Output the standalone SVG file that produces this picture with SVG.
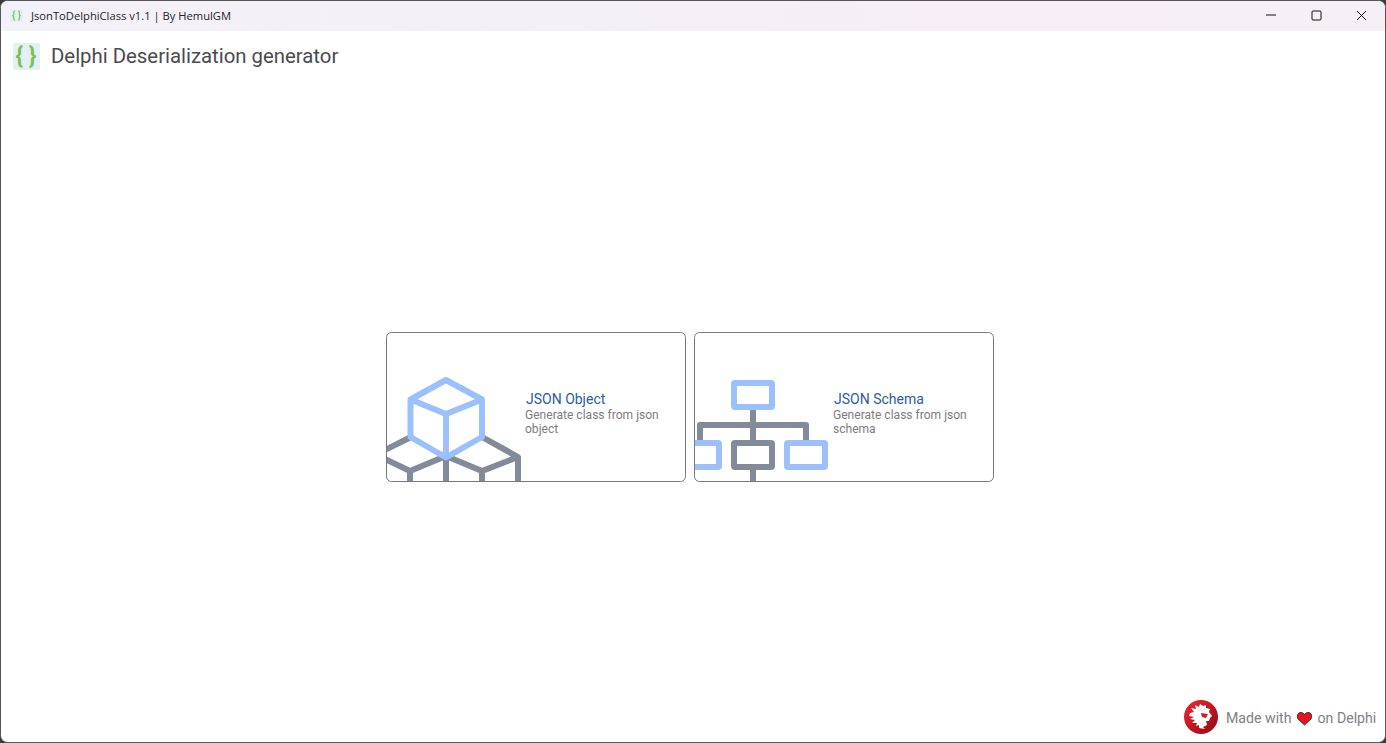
<svg xmlns="http://www.w3.org/2000/svg" width="1386" height="743" viewBox="0 0 1386 743">
<style>
text{font-family:Roboto,"Liberation Sans",sans-serif}
.t{font-size:14px;fill:#2a5ca8}
.d{font-size:12.05px;fill:#7d7d7d}
.b{fill:none;stroke:#9bc0fd;stroke-width:6;stroke-linejoin:round}
.g{fill:none;stroke:#838b9b;stroke-width:6;stroke-linejoin:round}
.card{fill:#fff;stroke:#77777f;stroke-width:1}
.f{font-size:14.15px;fill:#808086}
</style>
<defs>
<linearGradient id="tb" x1="0" x2="1" y1="0" y2="0"><stop offset="0" stop-color="#f3f1f9"/><stop offset=".7" stop-color="#f7eef7"/><stop offset="1" stop-color="#f7eff7"/></linearGradient>
<linearGradient id="dl" x1="0" y1="0" x2="1" y2="1"><stop offset="0" stop-color="#ec2a35"/><stop offset=".55" stop-color="#c0141f"/><stop offset="1" stop-color="#850a18"/></linearGradient>
<clipPath id="c1"><rect x="387" y="333" width="298" height="148" rx="5"/></clipPath>
<clipPath id="c2"><rect x="695" y="333" width="298" height="148" rx="5"/></clipPath>
</defs>
<rect width="1386" height="743" fill="#3a3a3a"/>
<rect x="0.5" y="0.5" width="1385" height="742" rx="7" fill="#fff" stroke="#55555a"/>
<path d="M1 31V8a7 7 0 0 1 7-7H1378a7 7 0 0 1 7 7V31Z" fill="url(#tb)"/>
<g id="titlebar">
<rect x="10" y="9" width="13" height="13" rx="1" fill="#e5f2f5"/>
<text x="16.500" y="19" font-size="10" fill="#7cc35a" text-anchor="middle" font-weight="700">{ }</text>
<text x="31" y="20" font-size="11.2" fill="#1f1f1f" style="font-family:'Open Sans',sans-serif">JsonToDelphiClass v1.1 | By HemulGM</text>
<path d="M1266 15H1276" stroke="#111" fill="none"/>
<rect x="1312" y="11" width="9" height="9" rx="1" fill="none" stroke="#111"/>
<path d="M1357 11L1366 20M1366 11L1357 20" stroke="#111" fill="none"/>
</g>
<g id="header">
<rect x="13" y="43" width="27" height="27" rx="2" fill="#e2f0f5"/>
<text x="26" y="63.500" font-size="23" font-weight="700" fill="#7cbf4e" text-anchor="middle">{ }</text>
<text x="51" y="63" font-size="20.35" fill="#4a4a4f">Delphi Deserialization generator</text>
</g>
<g id="node-json-object">
<rect class="card" x="386.500" y="332.500" width="299" height="149" rx="5"/>
<g clip-path="url(#c1)">
<path class="g" d="M411 437L385 450M385 459L410 471L446 456L482 471L518 457L482 437M410 471V483M446 456V483M482 471V483M518 457V483"/>
<path class="b" d="M446 380L482 399.500V437L446 457.500L410.500 437V399.500ZM410.500 399.500L446 414L482 399.500M446 414V457.500"/>
</g>
<text class="t" x="526" y="404">JSON Object</text>
<text class="d" x="525" y="419">Generate class from json</text>
<text class="d" x="525" y="433">object</text>
</g>
<g id="node-json-schema">
<rect class="card" x="694.500" y="332.500" width="299" height="149" rx="5"/>
<g clip-path="url(#c2)">
<path class="g" d="M753 410V443M700 443V425H806V443"/>
<rect class="g" x="734" y="443" width="38" height="24" rx="1"/>
<path class="g" d="M753 467V483"/>
<rect class="b" x="734" y="383" width="38" height="24" rx="1"/>
<rect class="b" x="681" y="443" width="38" height="24" rx="1"/>
<rect class="b" x="787" y="443" width="38" height="24" rx="1"/>
</g>
<text class="t" x="834" y="404">JSON Schema</text>
<text class="d" x="833" y="419">Generate class from json</text>
<text class="d" x="833" y="433">schema</text>
</g>
<g id="footer">
<circle cx="1201" cy="717" r="17" fill="url(#dl)"/>
<path d="M1190 713L1194 712L1191 708L1196 709L1195 705L1199 707L1200 704L1203 706L1206 705L1206 708L1210 709L1209 712L1212 716L1210 718L1209 721L1206 721L1207 725L1203 727L1205 729L1199 728L1199 725L1196 726L1197 723L1192 723L1195 720L1190 719L1194 717L1189 716Z" fill="#fff"/>
<path d="M1201 713L1208 714L1206 718L1202 717Z" fill="#d01c28"/>
<text class="f" x="1226" y="723">Made with</text>
<path d="M1304.500 725L1298 719Q1296 714 1300 712.500Q1303 712 1304.500 714.500Q1306 712 1309 712.500Q1313 714 1311 719Z" fill="#e8141f" stroke="#3a1010" stroke-width=".8"/>
<text class="f" x="1317.500" y="723">on Delphi</text>
</g>
</svg>
